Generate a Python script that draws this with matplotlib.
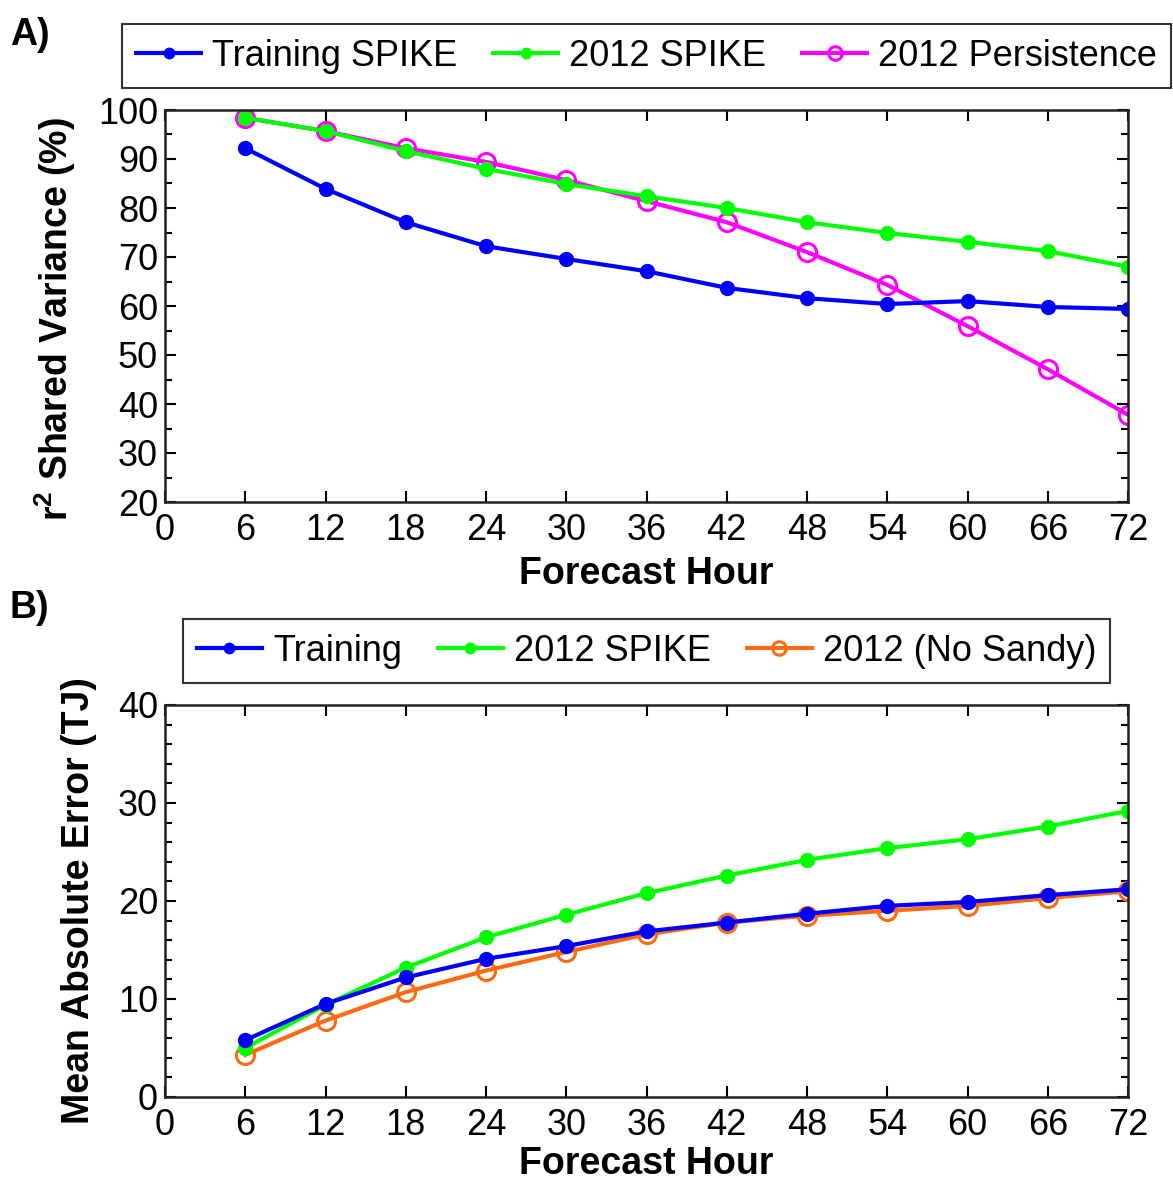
import numpy as np
import matplotlib
matplotlib.use("Agg")
import matplotlib.pyplot as plt
from matplotlib.ticker import MultipleLocator

plt.rcParams['font.family'] = ['Liberation Sans', 'DejaVu Sans']
plt.rcParams['mathtext.fontset'] = 'custom'
plt.rcParams['mathtext.bf'] = 'Liberation Sans:bold'
plt.rcParams['mathtext.rm'] = 'Liberation Sans'

# ---------------- data ----------------
hours = [6, 12, 18, 24, 30, 36, 42, 48, 54, 60, 66, 72]

# A) r^2 shared variance (%)
r2_training = [92.2, 83.9, 77.1, 72.2, 69.6, 67.1, 63.7, 61.6, 60.4, 61.0, 59.8, 59.4]
r2_spike2012 = [98.4, 95.7, 91.6, 88.0, 84.9, 82.4, 80.0, 77.1, 74.9, 73.1, 71.2, 68.0]
r2_persist2012 = [98.4, 95.7, 92.2, 89.4, 85.7, 81.4, 77.1, 71.0, 64.3, 55.9, 47.1, 37.8]

# B) mean absolute error (TJ)
mae_training = [5.8, 9.5, 12.2, 14.1, 15.4, 16.9, 17.8, 18.7, 19.5, 19.9, 20.6, 21.2]
mae_spike2012 = [5.0, 9.4, 13.2, 16.3, 18.6, 20.8, 22.6, 24.2, 25.4, 26.3, 27.6, 29.2]
mae_nosandy2012 = [4.3, 7.8, 10.7, 12.9, 14.8, 16.6, 17.8, 18.5, 19.0, 19.5, 20.3, 21.0]

BLUE = '#0000ff'
GREEN = '#00ff00'
MAGENTA = '#ff00ff'
ORANGE = '#ff6a10'

FS = 26      # tick / legend text
FS_LAB = 27  # axis labels

fig = plt.figure(figsize=(11.73, 11.81), dpi=100)
W, H = 1173, 1181


def px_axes(l, t, r, b):
    return fig.add_axes([l / W, 1 - b / H, (r - l) / W, (b - t) / H])


def style(ax, ymin, ymax, ymaj, ymin_step, xpad):
    ax.set_xlim(0, 72)
    ax.set_ylim(ymin, ymax)
    ax.xaxis.set_major_locator(MultipleLocator(6))
    ax.yaxis.set_major_locator(MultipleLocator(ymaj))
    ax.yaxis.set_minor_locator(MultipleLocator(ymin_step))
    ax.tick_params(which='both', direction='in', top=True, right=True,
                   labelsize=FS, width=1.5)
    ax.tick_params(axis='x', pad=8)
    ax.tick_params(axis='y', pad=5)
    ax.tick_params(which='major', length=8)
    ax.tick_params(which='minor', length=5)
    for s in ax.spines.values():
        s.set_linewidth(1.8)
        s.set_color('#222222')
    ax.set_xlabel('Forecast Hour', fontsize=FS_LAB, fontweight='bold', labelpad=xpad)


def make_legend(ax, handles, labels):
    leg = ax.legend(handles, labels, loc='lower center', bbox_to_anchor=(0.5, 1.056),
                    borderaxespad=0, ncol=3, fontsize=FS, frameon=True, fancybox=False,
                    edgecolor='black', handlelength=1.8, handletextpad=0.3,
                    columnspacing=1.0, borderpad=0.4, markerscale=0.75)
    leg.get_frame().set_linewidth(1.5)
    return leg


lw = 3

# ---------------- panel A ----------------
axA = px_axes(165, 110, 1128, 502)
axA.plot(hours, r2_training, '-o', color=BLUE, lw=lw, ms=10, label='Training SPIKE')
axA.plot(hours, r2_spike2012, '-o', color=GREEN, lw=lw, ms=10, label='2012 SPIKE')
axA.plot(hours, r2_persist2012, '-o', color=MAGENTA, lw=lw, ms=13, mfc='none',
         mew=2.2, label='2012 Persistence', zorder=1.9)
style(axA, 20, 100, 10, 5, 6)
axA.set_ylabel(r'r$^\mathbf{2}$ Shared Variance (%)', fontsize=FS_LAB, fontweight='bold')
axA.yaxis.set_label_coords(-0.090, 0.467)
h, l = axA.get_legend_handles_labels()
make_legend(axA, h, l)
fig.text(10 / W, 1 - 45 / H, 'A)', fontsize=27, fontweight='bold')

# ---------------- panel B ----------------
axB = px_axes(165, 705, 1128, 1097)
axB.plot(hours, mae_nosandy2012, '-o', color=ORANGE, lw=lw, ms=13, mfc='none',
         mew=2.2, label='2012 (No Sandy)', zorder=1.9)
axB.plot(hours, mae_spike2012, '-o', color=GREEN, lw=lw, ms=10, label='2012 SPIKE')
axB.plot(hours, mae_training, '-o', color=BLUE, lw=lw, ms=10, label='Training')
style(axB, 0, 40, 10, 2, 2)
axB.set_ylabel('Mean Absolute Error (TJ)', fontsize=FS_LAB, fontweight='bold')
axB.yaxis.set_label_coords(-0.071, 0.5)
h, l = axB.get_legend_handles_labels()
order = [2, 1, 0]
make_legend(axB, [h[i] for i in order], [l[i] for i in order])
fig.text(10 / W, 1 - 618 / H, 'B)', fontsize=27, fontweight='bold')

fig.savefig('out.png', dpi=100)
